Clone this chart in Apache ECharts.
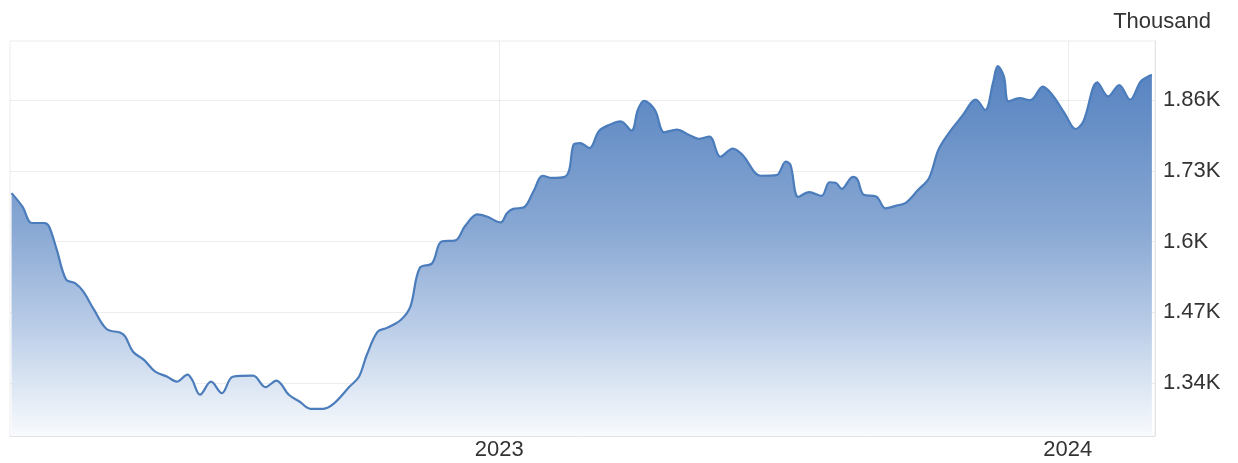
<!DOCTYPE html>
<html>
<head>
<meta charset="utf-8">
<script src="https://cdn.jsdelivr.net/npm/echarts@6/dist/echarts.min.js"></script>
<style>
  html, body { margin: 0; padding: 0; background: #ffffff; }
  #chart { width: 1238px; height: 463px; }
</style>
</head>
<body>
<div id="chart"></div>
<script>
// Observation dates and values (thousands of units shown as K)
const dates = [
  '2022-02-22','2022-03-01','2022-03-07','2022-03-15','2022-03-18','2022-03-23','2022-03-29',
  '2022-04-04','2022-04-09','2022-04-16','2022-04-24','2022-05-03','2022-05-06','2022-05-11',
  '2022-05-18','2022-05-25','2022-06-02','2022-06-08','2022-06-15','2022-06-18','2022-06-23',
  '2022-06-30','2022-07-07','2022-07-14','2022-07-27','2022-08-04','2022-08-11','2022-08-19',
  '2022-08-26','2022-09-02','2022-09-10','2022-09-17','2022-09-27','2022-10-03','2022-10-08',
  '2022-10-15','2022-10-21','2022-10-30','2022-11-05','2022-11-11','2022-11-19','2022-11-25',
  '2022-12-04','2022-12-10','2022-12-18','2022-12-24','2023-01-02','2023-01-06','2023-01-10',
  '2023-01-17','2023-01-23','2023-01-29','2023-02-04','2023-02-12','2023-02-15','2023-02-18',
  '2023-02-22','2023-02-28','2023-03-06','2023-03-13','2023-03-20','2023-03-27','2023-03-31',
  '2023-04-04','2023-04-11','2023-04-17','2023-04-25','2023-05-03','2023-05-09','2023-05-16',
  '2023-05-23','2023-05-31','2023-06-06','2023-06-18','2023-06-28','2023-07-04','2023-07-07',
  '2023-07-12','2023-07-19','2023-07-27','2023-08-01','2023-08-05','2023-08-09','2023-08-16',
  '2023-08-19','2023-08-23','2023-08-31','2023-09-06','2023-09-13','2023-09-19','2023-09-27',
  '2023-10-04','2023-10-10','2023-10-17','2023-10-25','2023-11-03','2023-11-09','2023-11-14',
  '2023-11-17','2023-11-21','2023-11-24','2023-12-01','2023-12-08','2023-12-16','2023-12-22',
  '2023-12-30','2024-01-06','2024-01-11','2024-01-20','2024-01-27','2024-02-03','2024-02-10',
  '2024-02-17','2024-02-24'
];
const values = [
  1689,1664,1634,1634,1628,1585,1530,
  1523,1508,1474,1439,1432,1425,1397,
  1382,1361,1351,1342,1355,1345,1318,
  1342,1321,1351,1353,1332,1344,1318,
  1305,1292,1292,1302,1333,1351,1391,
  1434,1441,1456,1480,1551,1560,1600,
  1602,1628,1650,1646,1635,1652,1660,
  1663,1692,1721,1717,1719,1732,1779,
  1781,1772,1803,1815,1821,1804,1842,
  1859,1842,1801,1806,1796,1789,1793,
  1756,1771,1760,1721,1722,1747,1741,
  1682,1691,1684,1709,1708,1697,1719,
  1714,1686,1683,1661,1666,1671,1695,
  1717,1769,1801,1830,1861,1842,1892,
  1923,1904,1858,1864,1860,1885,1870,
  1836,1807,1821,1893,1867,1888,1861,
  1895,1907
];

// Axis ticks
const yTicks = [1340, 1470, 1600, 1730, 1860];
const xTicks = ['2023-01-01', '2024-01-01'];
const unitLabel = 'Thousand';

const toTime = d => Date.parse(d + 'T00:00:00Z');
const seriesData = dates.map((d, i) => [toTime(d), values[i]]);
const xTickTimes = xTicks.map(toTime);

const chart = echarts.init(document.getElementById('chart'), null, { renderer: 'canvas' });

const fontFamily = '"Liberation Sans", Arial, sans-serif';
// translucent grid so it stays faintly visible across the filled area
const gridLine = { show: true, lineStyle: { color: 'rgba(110,110,110,0.12)', width: 1 } };

chart.setOption({
  animation: false,
  backgroundColor: '#ffffff',
  title: {
    text: unitLabel,
    right: 22,
    top: 6,
    textStyle: { fontFamily, fontSize: 22, fontWeight: 'normal', color: '#333333' }
  },
  grid: {
    left: 10,
    right: 83,
    top: 41,
    bottom: 27,
    show: true,
    borderColor: '#ececec',
    borderWidth: 1
  },
  xAxis: {
    type: 'value',
    z: 3,
    min: toTime('2022-02-21'),
    max: toTime('2024-02-26'),
    axisLine: { show: true, lineStyle: { color: '#e4e4e4', width: 1 } },
    axisTick: { show: false, customValues: xTickTimes },
    axisLabel: {
      customValues: xTickTimes,
      formatter: v => String(new Date(v).getUTCFullYear()),
      fontFamily, fontSize: 22, color: '#333333', margin: 3
    },
    splitLine: gridLine
  },
  yAxis: {
    type: 'value',
    z: 3,
    position: 'right',
    min: 1242,
    max: 1969,
    axisLine: { show: true, lineStyle: { color: '#e4e4e4', width: 1 } },
    axisTick: { show: false, customValues: yTicks },
    axisLabel: {
      customValues: yTicks,
      formatter: v => (v / 1000) + 'K',
      fontFamily, fontSize: 22, color: '#333333', margin: 8
    },
    splitLine: gridLine
  },
  series: [{
    type: 'line',
    data: seriesData,
    smooth: 0.35,
    showSymbol: false,
    lineStyle: { color: '#4b7cbb', width: 2.2 },
    areaStyle: {
      opacity: 1,
      color: new echarts.graphic.LinearGradient(0, 0, 0, 1, [
        { offset: 0, color: '#5582c0' },
        { offset: 0.45, color: '#8aa9d4' },
        { offset: 0.7, color: '#b9cce7' },
        { offset: 0.85, color: '#d9e4f2' },
        { offset: 1, color: '#f8fafd' }
      ])
    }
  }]
});
</script>
</body>
</html>
